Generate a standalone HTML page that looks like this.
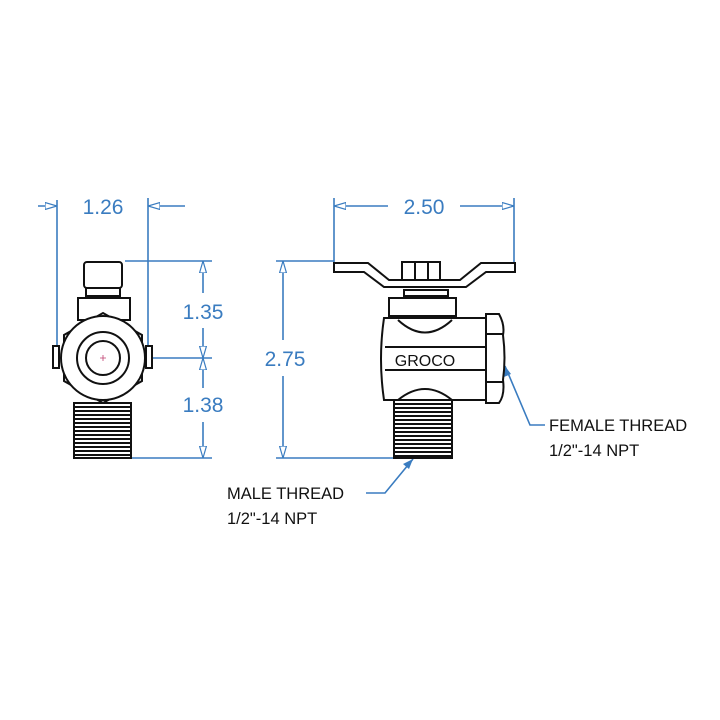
<!DOCTYPE html>
<html><head><style>body{margin:0;background:#fff}svg{display:block}</style></head><body>
<svg width="720" height="720" viewBox="0 0 720 720" xmlns="http://www.w3.org/2000/svg">
<defs>
<marker id="a" viewBox="0 0 12 8" refX="12" refY="4" markerWidth="12" markerHeight="8" markerUnits="userSpaceOnUse" orient="auto"><path d="M0,0.5 L12,4 L0,7.5 Z" fill="#fff" stroke="#3a7cc0" stroke-width="1.2"/></marker>
</defs>
<g stroke="#3a7cc0" stroke-width="1.6" fill="none">
<line x1="57" y1="200" x2="57" y2="348"/><line x1="148" y1="198" x2="148" y2="348"/>
<line x1="38" y1="206" x2="57" y2="206" marker-end="url(#a)"/>
<line x1="185" y1="206" x2="148" y2="206" marker-end="url(#a)"/>
<line x1="125" y1="261" x2="212" y2="261"/><line x1="103" y1="358" x2="212" y2="358"/><line x1="130" y1="458" x2="212" y2="458"/>
<line x1="203" y1="293" x2="203" y2="261" marker-end="url(#a)"/>
<line x1="203" y1="328" x2="203" y2="358" marker-end="url(#a)"/>
<line x1="203" y1="388" x2="203" y2="358" marker-end="url(#a)"/>
<line x1="203" y1="422" x2="203" y2="458" marker-end="url(#a)"/>
<line x1="334" y1="198" x2="334" y2="265"/><line x1="514" y1="198" x2="514" y2="265"/>
<line x1="388" y1="206" x2="334" y2="206" marker-end="url(#a)"/>
<line x1="460" y1="206" x2="514" y2="206" marker-end="url(#a)"/>
<line x1="276" y1="261" x2="334" y2="261"/><line x1="276" y1="458" x2="395" y2="458"/>
<line x1="283" y1="340" x2="283" y2="261" marker-end="url(#a)"/>
<line x1="283" y1="376" x2="283" y2="458" marker-end="url(#a)"/>
<polyline points="545,425 530,425 505,366"/>
<polyline points="366,493 385,493 413,459"/>
</g>
<path d="M505,366 l-1,11 l7,-3z M413,459 l-10,5 l6,5z" fill="#3a7cc0"/>
<g fill="#3a7cc0" font-family="Liberation Sans, sans-serif" font-size="21" text-anchor="middle">
<text x="103" y="214">1.26</text>
<text x="203" y="319">1.35</text>
<text x="203" y="412">1.38</text>
<text x="424" y="214">2.50</text>
<text x="285" y="366">2.75</text>
</g>
<g fill="#111" font-family="Liberation Sans, sans-serif" font-size="16.5">
<text x="549" y="431">FEMALE THREAD</text><text x="549" y="456">1/2"-14 NPT</text>
<text x="227" y="499">MALE THREAD</text><text x="227" y="524">1/2"-14 NPT</text>
</g>
<g stroke="#111" stroke-width="2" fill="#fff">
<rect x="84" y="262" width="38" height="26" rx="3"/>
<rect x="86" y="288" width="34" height="8"/>
<rect x="78" y="298" width="52" height="22"/>
<rect x="53" y="346" width="6" height="22"/><rect x="146" y="346" width="6" height="22"/>
<polygon points="103,313 142,335 142,381 103,403 64,381 64,335"/>
<circle cx="103" cy="358" r="42"/>
<rect x="74" y="403" width="57" height="55"/>
<circle cx="103" cy="358" r="26"/><circle cx="103" cy="358" r="17"/>
</g>
<g stroke="#111" stroke-width="2">
<path d="M75,407H130M75,411H130M75,415H130M75,419H130M75,423H130M75,427H130M75,431H130M75,435H130M75,439H130M75,443H130M75,447H130M75,451H130M75,455H130"/>
<path d="M100,358h6M103,355v6" stroke="#c04070" stroke-width="0.8"/>
</g>
<g stroke="#111" stroke-width="2" fill="#fff">
<path d="M334,263 H368 L389,280 H460 L481,263 H515 V272 H486 L466,287 H384 L364,272 H334Z"/>
<rect x="402" y="262" width="38" height="18"/>
<path d="M415,262v18M428,262v18" fill="none"/>
<rect x="404" y="290" width="44" height="6"/>
<path d="M389,298 H456 V316 H389Z"/>
<path d="M384,318 H486 V400 H384 Q378,359 384,318Z"/>
<path d="M398,320 Q425,345 452,320" fill="none"/>
<path d="M385,347 H486 M385,370 H486" fill="none"/>
<path d="M486,314 H499 Q505,325 503,335 Q506,358 503,380 Q505,395 499,403 H486Z"/>
<path d="M487,334 H503 M487,382 H503" fill="none"/>
<path d="M398,400 Q425,378 452,400" fill="none"/>
<rect x="394" y="400" width="58" height="58"/>
</g>
<g stroke="#111" stroke-width="2">
<path d="M395,404H451M395,408H451M395,412H451M395,416H451M395,420H451M395,424H451M395,428H451M395,432H451M395,436H451M395,440H451M395,444H451M395,448H451M395,452H451M395,456H451"/>
</g>
<text x="425" y="366" font-family="Liberation Sans, sans-serif" font-size="16" fill="#111" text-anchor="middle">GROCO</text>
</svg>
</body></html>
